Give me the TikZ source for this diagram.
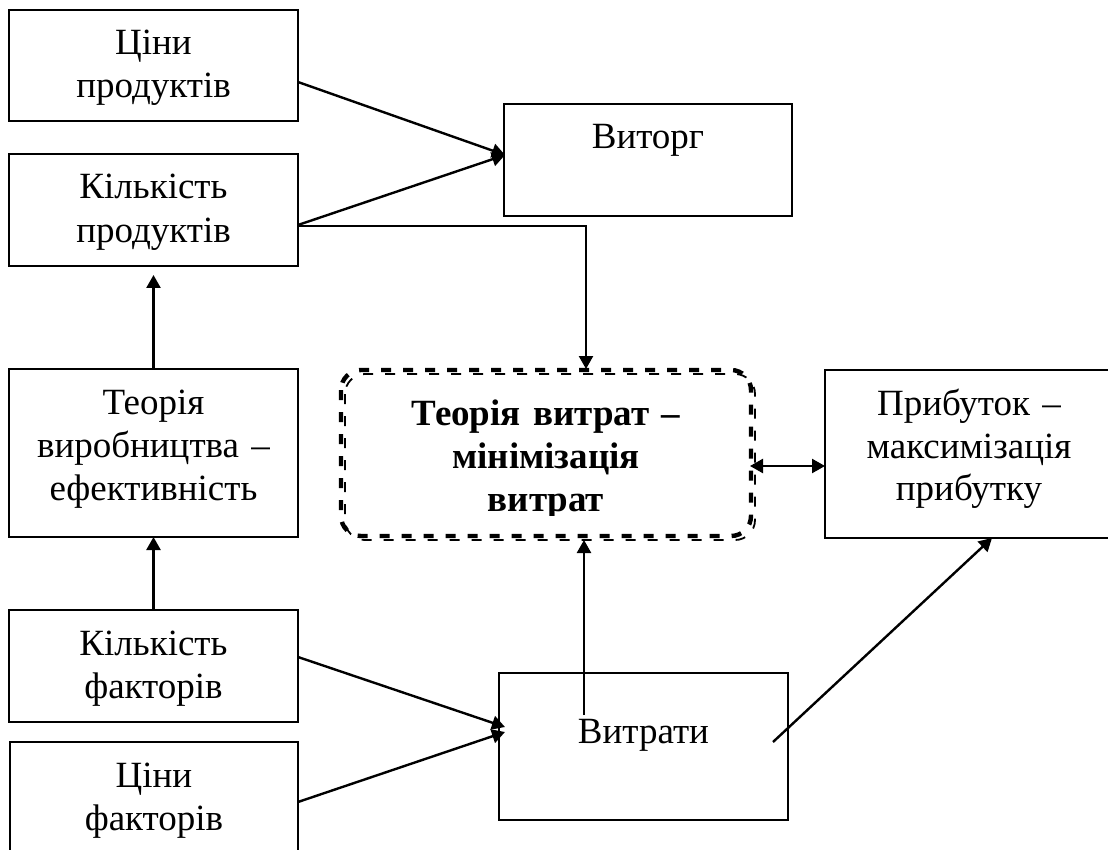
\documentclass[tikz,border=0pt]{standalone}
\usepackage{fontspec}
\setmainfont{Liberation Serif}
\usetikzlibrary{arrows.meta,calc}
\begin{document}
\begin{tikzpicture}[x=0.5pt,y=-0.5pt,
  box/.style 2 args={draw, line width=0.9pt, rectangle, inner sep=0pt, outer sep=0pt,
    minimum width=#1*0.5pt, minimum height=#2*0.5pt},
  hold/.style 2 args={rectangle, inner sep=0pt, outer sep=0pt,
    minimum width=#1*0.5pt, minimum height=#2*0.5pt},
  lbl/.style={anchor=base, inner sep=0pt, outer sep=0pt, text width=150pt, align=center,
    font=\fontsize{18.5pt}{21.5pt}\selectfont},
  conn/.style={line width=1.2pt, -{Triangle[length=6.5pt,width=7pt]}},
  dconn/.style={line width=1.2pt, {Triangle[length=6.5pt,width=7pt]}-{Triangle[length=6.5pt,width=7pt]}},
  dthick/.style={line width=2.2pt, dash pattern=on 5pt off 6pt, rounded corners=10pt},
  dthin/.style={line width=0.9pt, dash pattern=on 5pt off 6pt, rounded corners=10pt}]
\clip (0,0) rectangle (1108,850);

% boxes
\node[box={289}{111}] (cp) at (153.5,65.5) {};
\node[box={289}{112}] (kp) at (153.5,210) {};
\node[box={288}{112}] (vt) at (648,160) {};
\node[box={289}{168}] (tv) at (153.5,453) {};
\node[hold={410}{166}] (tm) at (546,453) {};
\node[box={288}{168}] (pr) at (969,454) {};
\node[box={289}{112}] (kf) at (153.5,666) {};
\node[box={289}{147}] (vr) at (643.5,746.5) {};
\node[box={288}{118}] (cf) at (154,801) {};

% double dashed rounded frame of the central block
\draw[dthick] (tm.north west) rectangle (tm.south east);
\draw[dthin] ([shift={(4,4)}]tm.north west) rectangle ([shift={(4,4)}]tm.south east);

% labels
\node[lbl] (tcp) at ([shift={(0,45)}]cp.north) {Ціни\\продуктів};
\node[lbl] (tkp) at ([shift={(0,45)}]kp.north) {Кількість\\продуктів};
\node[lbl] (tvt) at ([shift={(0,45)}]vt.north) {Виторг};
\node[lbl] (ttv) at ([shift={(0,45)}]tv.north) {Теорія\\виробництва –\\ефективність};
\node[lbl] (tpr) at ([shift={(0,45)}]pr.north) {Прибуток –\\максимізація\\прибутку};
\node[lbl] (tkf) at ([shift={(0,45)}]kf.north) {Кількість\\факторів};
\node[lbl] (tvr) at ([shift={(0,70)}]vr.north) {Витрати};
\node[lbl] (tcf) at ([shift={(0,45)}]cf.north) {Ціни\\факторів};
\begin{scope}
  \clip ([shift={(0,10)}]tm.north west) rectangle ([shift={(0,-21)}]tm.south east);
  \node[lbl, text width=200pt, font=\fontsize{18.5pt}{21.5pt}\selectfont\bfseries] (ttm)
    at ([shift={(0,55)}]tm.north) {Теорія витрат –\\мінімізація\\витрат};
\end{scope}

% connectors
\draw[conn] ([shift={(0,16.5)}]cp.east) -- ([shift={(1,-5)}]vt.west);
\draw[conn] ([shift={(0,15)}]kp.east) -- ([shift={(1,-5)}]vt.west);
\draw[conn] ([shift={(0,16)}]kp.east) -| ([shift={(40,-1)}]tm.north);
\draw[conn] (tv.north) -- ([shift={(0,9)}]kp.south);
\draw[conn] (kf.north) -- (tv.south);
\draw[conn] ([shift={(-59.5,42)}]vr.north) -- ([shift={(38,4)}]tm.south);
\draw[dconn] ([shift={(-1,13)}]tm.east) -- ([shift={(0,12)}]pr.west);
\draw[conn] ([shift={(0,-9)}]kf.east) -- ([shift={(6,-19.5)}]vr.west);
\draw[conn] ([shift={(0,1)}]cf.east) -- ([shift={(6,-14.5)}]vr.west);
\draw[conn] ([shift={(-15,-78)}]vr.south east) -- ([shift={(23,0)}]pr.south);
\end{tikzpicture}
\end{document}
